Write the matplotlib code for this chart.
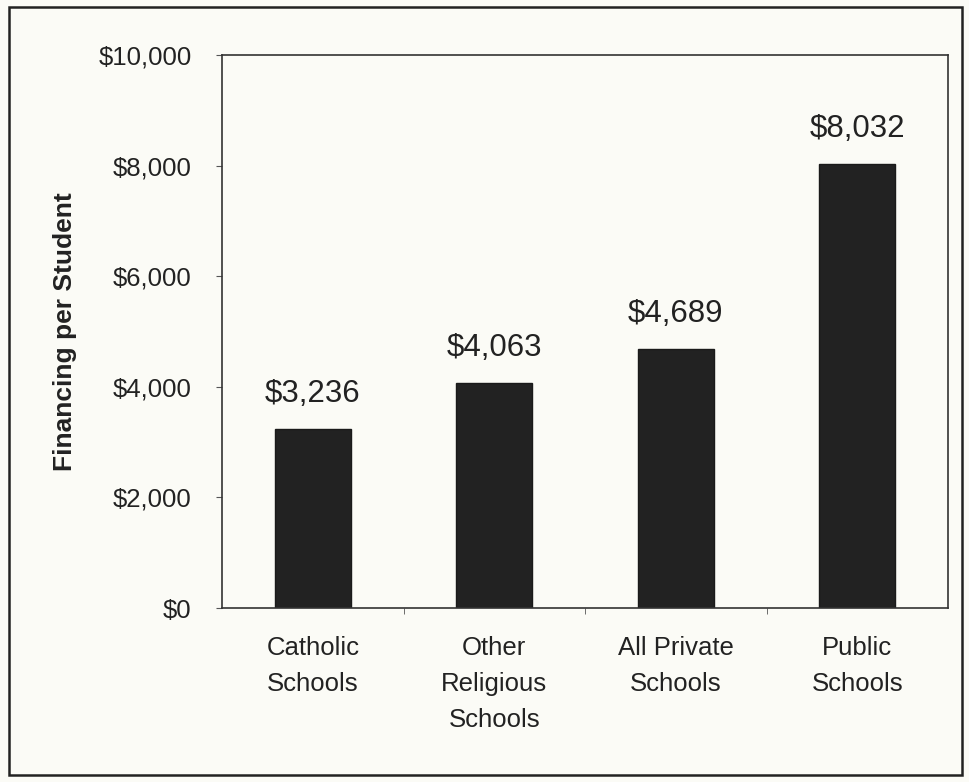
import matplotlib
matplotlib.use("Agg")
import matplotlib.pyplot as plt
from matplotlib.patches import Rectangle
from matplotlib.ticker import FuncFormatter

categories = ["Catholic\nSchools", "Other\nReligious\nSchools", "All Private\nSchools", "Public\nSchools"]
values = [3236, 4063, 4689, 8032]
yticks = [0, 2000, 4000, 6000, 8000, 10000]

plt.rcParams['font.family'] = ['Liberation Sans', 'DejaVu Sans']
W, H = 969, 782
fig = plt.figure(figsize=(W/100, H/100), dpi=100, facecolor='#fbfbf6')
fig.patches.append(Rectangle((9/W, 7/H), (962-9)/W, (775-7)/H, transform=fig.transFigure,
                             fill=False, edgecolor='#222222', linewidth=1.8))

ax = fig.add_axes([222/W, 1-608/H, (948-222)/W, (608-55)/H])
ax.set_facecolor('#fbfbf6')
x = range(len(categories))
bars = ax.bar(x, values, width=0.42, color='#222222', edgecolor='#1a1a1a')
ax.set_xlim(-0.5, len(categories)-0.5)
ax.set_ylim(0, 10000)
ax.set_yticks(yticks)
ax.yaxis.set_major_formatter(FuncFormatter(lambda v, p: f"${int(v):,}"))
ax.set_xticks(list(x))
ax.set_xticklabels(categories, fontsize=18.5, color='#222222', linespacing=1.65)
ax.set_xticks([i + 0.5 for i in range(len(categories)-1)], minor=True)
ax.tick_params(axis='x', which='major', length=0, pad=20)
ax.tick_params(axis='x', which='minor', length=4, direction='out', color='#555555')
ax.tick_params(axis='y', length=4, direction='out', labelsize=18.5, labelcolor='#222222', pad=18, color='#555555')
for s in ax.spines.values():
    s.set_color('#333333')
    s.set_linewidth(1.2)
ax.set_ylabel("Financing per Student", fontsize=19, fontweight='bold', color='#222222', labelpad=15)
for b, v in zip(bars, values):
    ax.annotate(f"${v:,}", (b.get_x() + b.get_width()/2, v), xytext=(0, 14.5),
                textcoords='offset points', ha='center', va='bottom', fontsize=22.5, color='#222222')
fig.savefig("out.png", dpi=100, facecolor=fig.get_facecolor())
